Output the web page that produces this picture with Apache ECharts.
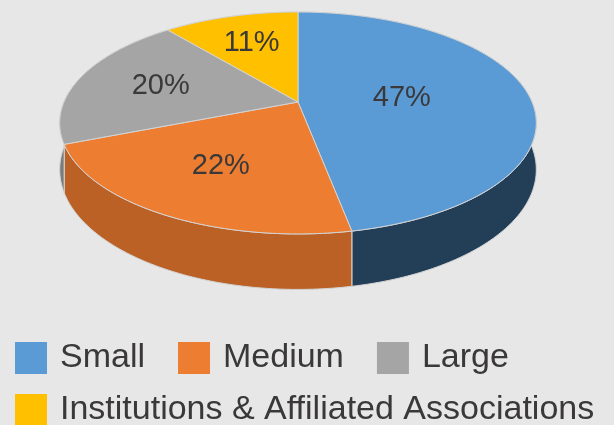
<!DOCTYPE html>
<html>
<head>
<meta charset="utf-8">
<script src="https://cdn.jsdelivr.net/npm/echarts@6/dist/echarts.min.js"></script>
<style>
  html, body { margin: 0; padding: 0; background: #e6e7e6; }
  #chart { width: 614px; height: 425px; }
</style>
</head>
<body>
<div id="chart"></div>
<script>
  // chart data
  var categories = ['Small', 'Medium', 'Large', 'Institutions & Affiliated Associations'];
  var shares = [47, 22, 20, 11];

  // colours (top face / side wall)
  var topColors = ['#5b9bd5', '#ed7d31', '#a5a5a5', '#ffc000'];
  var sideColors = ['#233f58', '#bc6126', '#7c7c7c', '#bf9000'];

  // pseudo 3D pie geometry
  var CX = 298, CY = 102, RX = 234, RY = 107, PERSP = 0.189, DEPTH = 45;

  var total = shares.reduce(function (a, b) { return a + b }, 0);
  var starts = [];
  shares.reduce(function (acc, v, i) { starts[i] = acc; return acc + v }, 0);

  // theta measured clockwise from 12 o'clock, r in 0..1
  function project(theta, r) {
    var X = Math.sin(theta) * r, Y = Math.cos(theta) * r;
    var s = 1 / (1 + PERSP * Y);
    return [CX + RX * X * s, CY - RY * Y * s];
  }

  function makeRender(i) {
    return function (params, api) {
      var a0 = starts[i] / total * Math.PI * 2;
      var a1 = (starts[i] + shares[i]) / total * Math.PI * 2;
      var steps = Math.max(2, Math.ceil((a1 - a0) / (Math.PI / 180)));
      var arc = [], bottom = [];
      for (var j = 0; j <= steps; j++) {
        var t = a0 + (a1 - a0) * j / steps;
        var p = project(t, 1);
        arc.push(p);
        bottom.push([p[0], p[1] + DEPTH / (1 + PERSP * Math.cos(t))]);
      }
      var wall = arc.concat(bottom.slice().reverse());
      var top = [project(0, 0)].concat(arc);

      // label at the sector centroid
      var alpha = a1 - a0;
      var d = 4 * Math.sin(alpha / 2) / (3 * alpha);
      var lp = project((a0 + a1) / 2, d);
      var pct = Math.round(api.value(0) / total * 100) + '%';

      return {
        type: 'group',
        children: [
          {
            type: 'polygon', z2: 1,
            shape: { points: wall },
            style: { fill: sideColors[i], stroke: '#d4d4d4', lineWidth: 1 }
          },
          {
            type: 'polygon', z2: 10,
            shape: { points: top },
            style: { fill: topColors[i], stroke: '#d4d4d4', lineWidth: 1 }
          },
          {
            type: 'text', z2: 20,
            x: lp[0], y: lp[1],
            style: {
              text: pct, fill: '#3a3839', fontSize: 29,
              fontFamily: 'Liberation Sans, Arial, sans-serif',
              align: 'center', verticalAlign: 'middle'
            }
          }
        ]
      }
    }
  }

  var legendCommon = {
    icon: 'rect',
    padding: 0,
    itemWidth: 32,
    itemHeight: 32,
    itemGap: 33,
    selectedMode: false,
    textStyle: {
      fontSize: 34,
      lineHeight: 32,
      color: '#3a3839',
      fontFamily: 'Liberation Sans, Arial, sans-serif',
      padding: [0, 0, 0, 8]
    }
  };

  var chart = echarts.init(document.getElementById('chart'));
  chart.setOption({
    backgroundColor: '#e6e7e6',
    animation: false,
    legend: [
      Object.assign({ data: categories.slice(0, 3), left: 15, top: 341 }, legendCommon),
      Object.assign({ data: categories.slice(3), left: 15, top: 393 }, legendCommon)
    ],
    series: categories.map(function (name, i) {
      return {
        type: 'custom',
        name: name,
        coordinateSystem: 'none',
        silent: true,
        itemStyle: { color: topColors[i] },
        data: [[shares[i]]],
        renderItem: makeRender(i)
      }
    })
  });
</script>
</body>
</html>
